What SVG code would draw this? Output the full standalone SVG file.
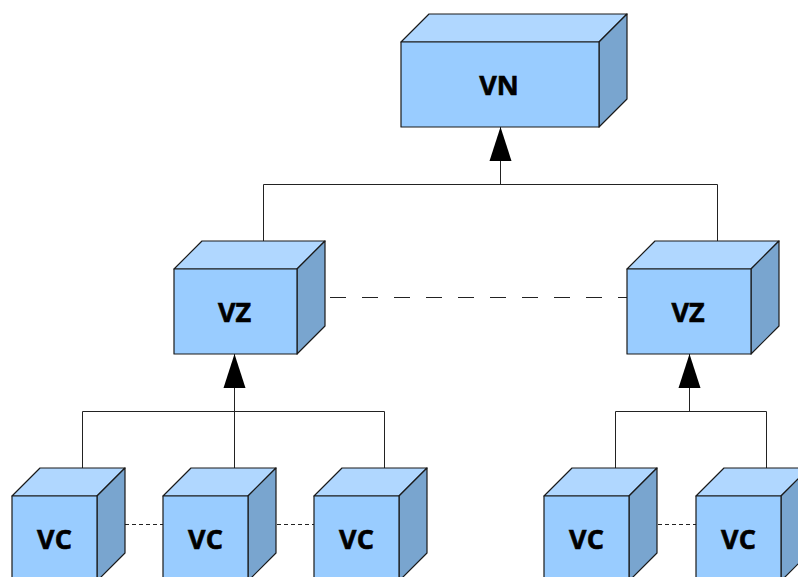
<svg xmlns="http://www.w3.org/2000/svg" width="798" height="577" viewBox="0 0 798 577">
  <style>
    .front { fill: #99ccff; stroke: #1a1a1a; stroke-width: 1.2; stroke-linejoin: round; }
    .top { fill: #b0d7ff; stroke: #1a1a1a; stroke-width: 1.2; stroke-linejoin: round; }
    .side { fill: #79a5cf; stroke: #1a1a1a; stroke-width: 1.2; stroke-linejoin: round; }
    .label { font-family: "Open Sans", "DejaVu Sans", sans-serif; font-weight: 700; font-size: 27px; fill: #000; stroke: #000; stroke-width: 0.6; text-anchor: middle; }
    .wire { fill: none; stroke: #222; stroke-width: 1; }
    .peer { fill: none; stroke: #222; stroke-width: 1; stroke-dasharray: 16 16; }
    .dots { fill: none; stroke: #222; stroke-width: 1; stroke-dasharray: 4 3; }
  </style>
  <defs>
    <marker id="arrow" markerUnits="userSpaceOnUse" markerWidth="34" markerHeight="22" refX="34" refY="11" orient="auto" overflow="visible">
      <path d="M0,0 L34,11 L0,22 z" fill="#000"/>
    </marker>
  </defs>

  <!-- connectors -->
  <g id="connectors">
    <!-- VN tree -->
    <path class="wire" d="M263.5,241 V184.5 H717.5 V241"/>
    <path class="wire" d="M500.5,184.5 V127" marker-end="url(#arrow)"/>
    <!-- left VZ tree -->
    <path class="wire" d="M82.5,468 V411.5 H384.5 V468"/>
    <path class="wire" d="M234.5,468 V411.5"/>
    <path class="wire" d="M234.5,411.5 V354" marker-end="url(#arrow)"/>
    <!-- right VZ tree -->
    <path class="wire" d="M615.5,468 V411.5 H766.5 V468"/>
    <path class="wire" d="M689.5,411.5 V354" marker-end="url(#arrow)"/>
    <!-- peer links -->
    <path class="peer" d="M330,297.5 H627"/>
    <path class="dots" d="M125,524.5 H163"/>
    <path class="dots" d="M277,524.5 H314"/>
    <path class="dots" d="M658,524.5 H696"/>
  </g>

  <!-- VN -->
  <g id="vn">
    <polygon class="top" points="401,42 429,14 627,14 599,42"/>
    <polygon class="side" points="599,42 627,14 627,99 599,127"/>
    <rect class="front" x="401" y="42" width="198" height="85"/>
    <text class="label" x="499" y="95">VN</text>
  </g>

  <!-- VZ left -->
  <g id="vz-left">
    <polygon class="top" points="174,269 202,241 325,241 297,269"/>
    <polygon class="side" points="297,269 325,241 325,326 297,354"/>
    <rect class="front" x="174" y="269" width="123" height="85"/>
    <text class="label" x="234.5" y="322">VZ</text>
  </g>

  <!-- VZ right -->
  <g id="vz-right">
    <polygon class="top" points="627,269 655,241 779,241 751,269"/>
    <polygon class="side" points="751,269 779,241 779,326 751,354"/>
    <rect class="front" x="627" y="269" width="124" height="85"/>
    <text class="label" x="688" y="322">VZ</text>
  </g>

  <!-- VC row -->
  <g id="vc-1">
    <polygon class="top" points="12,496 40,468 125,468 97,496"/>
    <polygon class="side" points="97,496 125,468 125,553 97,581"/>
    <rect class="front" x="12" y="496" width="85" height="85"/>
    <text class="label" x="54.5" y="549">VC</text>
  </g>
  <g id="vc-2">
    <polygon class="top" points="163,496 191,468 276,468 248,496"/>
    <polygon class="side" points="248,496 276,468 276,553 248,581"/>
    <rect class="front" x="163" y="496" width="85" height="85"/>
    <text class="label" x="205.5" y="549">VC</text>
  </g>
  <g id="vc-3">
    <polygon class="top" points="314,496 342,468 427,468 399,496"/>
    <polygon class="side" points="399,496 427,468 427,553 399,581"/>
    <rect class="front" x="314" y="496" width="85" height="85"/>
    <text class="label" x="356.5" y="549">VC</text>
  </g>
  <g id="vc-4">
    <polygon class="top" points="544,496 572,468 657,468 629,496"/>
    <polygon class="side" points="629,496 657,468 657,553 629,581"/>
    <rect class="front" x="544" y="496" width="85" height="85"/>
    <text class="label" x="586.5" y="549">VC</text>
  </g>
  <g id="vc-5">
    <polygon class="top" points="696,496 724,468 809,468 781,496"/>
    <polygon class="side" points="781,496 809,468 809,553 781,581"/>
    <rect class="front" x="696" y="496" width="85" height="85"/>
    <text class="label" x="738.5" y="549">VC</text>
  </g>
</svg>
